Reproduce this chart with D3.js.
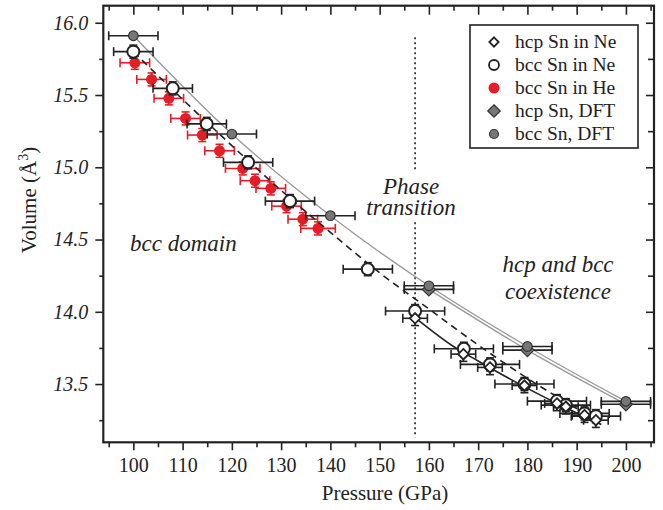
<!DOCTYPE html>
<html>
<head>
<meta charset="utf-8">
<script src="https://cdn.jsdelivr.net/npm/d3@7"></script>
<style>
  body { margin: 0; background: #fff; }
  svg text { font-family: "Liberation Serif", "Times New Roman", serif; }
</style>
</head>
<body>
<div id="graph"></div>
<script>
// values
var xTicks = [100, 110, 120, 130, 140, 150, 160, 170, 180, 190, 200]
var xMinor = [95, 105, 115, 125, 135, 145, 155, 165, 175, 185, 195, 205]
var yTicks = [13.5, 14.0, 14.5, 15.0, 15.5, 16.0]
var yMinor = [13.25, 13.75, 14.25, 14.75, 15.25, 15.75]

var hcpNeP = [157.2, 167.0, 172.4, 179.4, 186.0, 187.8, 191.6, 193.9]
var hcpNeV = [13.955, 13.707, 13.615, 13.49, 13.366, 13.343, 13.285, 13.25]
var hcpNeErrP = [2.5, 2.5, 2.5, 2.5, 2.5, 2.5, 2.5, 2.5]
var hcpNeErrV = [0.05, 0.05, 0.05, 0.05, 0.05, 0.05, 0.05, 0.05]

var bccNeP = [100.0, 108.0, 114.9, 123.3, 131.8, 147.6, 157.2, 167.1, 172.4, 179.4, 186.0, 187.8, 191.6, 193.9]
var bccNeV = [15.80, 15.546, 15.30, 15.034, 14.766, 14.295, 14.005, 13.744, 13.636, 13.50, 13.382, 13.354, 13.297, 13.278]
var bccNeErrP = [4, 4, 4, 5, 5, 5, 6, 6, 6, 6, 6, 5, 5, 5]
var bccNeErrV = [0.045, 0.045, 0.045, 0.045, 0.045, 0.045, 0.045, 0.045, 0.045, 0.045, 0.045, 0.045, 0.045, 0.045]

var bccHeP = [100.3, 103.7, 107.2, 110.6, 114.0, 117.5, 122.2, 124.7, 127.9, 131.1, 134.4, 137.5]
var bccHeV = [15.723, 15.608, 15.477, 15.338, 15.223, 15.114, 14.992, 14.907, 14.854, 14.731, 14.641, 14.577]
var bccHeErrP = [3, 3, 3, 3, 3, 3, 3.5, 3, 3, 3, 3, 3.5]
var bccHeErrV = [0.045, 0.045, 0.045, 0.045, 0.045, 0.045, 0.045, 0.045, 0.045, 0.045, 0.045, 0.045]

var hcpDftP = [160, 180, 200]
var hcpDftV = [14.155, 13.735, 13.36]
var bccDftP = [100, 120, 140, 160, 180, 200]
var bccDftV = [15.91, 15.23, 14.665, 14.18, 13.76, 13.38]
var dftErrP = 5

// fitted curves
var bccFitP = [100, 110, 120, 130, 140, 150, 160, 170, 180, 190, 194]
var bccFitV = [15.80, 15.47, 15.15, 14.84, 14.55, 14.27, 14.02, 13.77, 13.54, 13.33, 13.25]
var hcpFitP = [157.2, 165, 170, 180, 190, 195]
var hcpFitV = [13.96, 13.76, 13.66, 13.47, 13.30, 13.22]

var transitionP = 157.2
var legendLabels = ["hcp Sn in Ne", "bcc Sn in Ne", "bcc Sn in He", "hcp Sn, DFT", "bcc Sn, DFT"]

var red = "#e41e26", dftFill = "#777", dftStroke = "#333", dftLine = "#9a9a9a"

var width = 663, height = 510
var pLeft = 103.3, pRight = 654, pTop = 5.7, pBottom = 442.3

var svg = d3.select("#graph").append("svg")
  .attr("width", width)
  .attr("height", height)

var x = d3.scaleLinear().domain([93.9, 205.7]).range([pLeft, pRight])
var y = d3.scaleLinear().domain([13.097, 16.118]).range([pBottom, pTop])

function zip(ps, vs) {
  return ps.map(function(p, i) { return [p, vs[i]] })
}

// axes
var gx = svg.append("g").attr("transform", "translate(0," + pBottom + ")")
  .call(d3.axisBottom(x).tickValues(xTicks).tickSize(8).tickPadding(8).tickFormat(d3.format("d")))
gx.selectAll("text").style("font-size", "20px").attr("fill", "#222")
svg.append("g").attr("transform", "translate(0," + pBottom + ")")
  .call(d3.axisBottom(x).tickValues(xMinor).tickSize(5).tickFormat(""))
svg.append("g").attr("transform", "translate(0," + pTop + ")")
  .call(d3.axisBottom(x).tickValues(xTicks).tickSize(9).tickFormat(""))
svg.append("g").attr("transform", "translate(0," + pTop + ")")
  .call(d3.axisBottom(x).tickValues(xMinor).tickSize(5).tickFormat(""))

var gy = svg.append("g").attr("transform", "translate(" + pLeft + ",0)")
  .call(d3.axisLeft(y).tickValues(yTicks).tickSize(8).tickPadding(7).tickFormat(d3.format(".1f")))
gy.selectAll("text").style("font-size", "20px").style("font-style", "italic").attr("fill", "#222")
svg.append("g").attr("transform", "translate(" + pLeft + ",0)")
  .call(d3.axisLeft(y).tickValues(yMinor).tickSize(4).tickFormat(""))
svg.append("g").attr("transform", "translate(" + pRight + ",0)")
  .call(d3.axisLeft(y).tickValues(yTicks).tickSize(8).tickFormat(""))
svg.append("g").attr("transform", "translate(" + pRight + ",0)")
  .call(d3.axisLeft(y).tickValues(yMinor).tickSize(6).tickFormat(""))

svg.selectAll(".domain").remove()
svg.selectAll(".tick line").attr("stroke", "#222").attr("stroke-width", 1.6)

svg.append("rect")
  .attr("x", pLeft).attr("y", pTop)
  .attr("width", pRight - pLeft).attr("height", pBottom - pTop)
  .attr("fill", "none").attr("stroke", "#222").attr("stroke-width", 2.2)

// axis titles
svg.append("text")
  .attr("x", 385).attr("y", 500)
  .attr("text-anchor", "middle")
  .style("font-size", "21px").attr("fill", "#222")
  .text("Pressure (GPa)")

var yl = svg.append("text")
  .attr("transform", "translate(36,200) rotate(-90)")
  .attr("text-anchor", "middle")
  .style("font-size", "21px").attr("fill", "#222")
yl.append("tspan").text("Volume (Å")
yl.append("tspan").attr("dy", -8).style("font-size", "14px").text("3")
yl.append("tspan").attr("dy", 8).text(")")

// phase transition line
svg.append("line")
  .attr("x1", x(transitionP)).attr("x2", x(transitionP))
  .attr("y1", y(15.9)).attr("y2", y(13.13))
  .attr("stroke", "#222").attr("stroke-width", 1.6)
  .attr("stroke-dasharray", "2,3")
svg.append("rect")
  .attr("x", x(transitionP) - 45).attr("y", 172)
  .attr("width", 90).attr("height", 48)
  .attr("fill", "#fff")

// annotations
function label(t, xx, yy, anchor) {
  svg.append("text")
    .attr("x", xx).attr("y", yy)
    .attr("text-anchor", anchor)
    .style("font-size", "23px").style("font-style", "italic").attr("fill", "#222")
    .text(t)
}
label("Phase", 411, 194, "middle")
label("transition", 411, 215, "middle")
label("bcc domain", 130, 251, "start")
label("hcp and bcc", 558, 272, "middle")
label("coexistence", 558, 299, "middle")

// error bars
function errorBars(ps, vs, eps, evs, color) {
  var g = svg.append("g").attr("stroke", color).attr("stroke-width", 1.6)
  ps.forEach(function(p, i) {
    var cx = x(p), cy = y(vs[i])
    var x0 = x(p - eps[i]), x1 = x(p + eps[i])
    var y0 = y(vs[i] - evs[i]), y1 = y(vs[i] + evs[i])
    g.append("line").attr("x1", x0).attr("x2", x1).attr("y1", cy).attr("y2", cy)
    g.append("line").attr("x1", x0).attr("x2", x0).attr("y1", cy - 4.5).attr("y2", cy + 4.5)
    g.append("line").attr("x1", x1).attr("x2", x1).attr("y1", cy - 4.5).attr("y2", cy + 4.5)
    if (evs[i] > 0) {
      g.append("line").attr("x1", cx).attr("x2", cx).attr("y1", y0).attr("y2", y1)
      g.append("line").attr("x1", cx - 4).attr("x2", cx + 4).attr("y1", y0).attr("y2", y0)
      g.append("line").attr("x1", cx - 4).attr("x2", cx + 4).attr("y1", y1).attr("y2", y1)
    }
  })
}

var line = d3.line()
  .x(function(d) { return x(d[0]) })
  .y(function(d) { return y(d[1]) })
  .curve(d3.curveMonotoneX)

// He data first (lies underneath)
errorBars(bccHeP, bccHeV, bccHeErrP, bccHeErrV, red)
svg.append("g").selectAll("circle")
  .data(zip(bccHeP, bccHeV))
  .enter().append("circle")
  .attr("cx", function(d) { return x(d[0]) })
  .attr("cy", function(d) { return y(d[1]) })
  .attr("r", 5.5)
  .attr("fill", red)

// DFT lines
svg.append("path").datum(zip(bccDftP, bccDftV))
  .attr("d", line).attr("fill", "none")
  .attr("stroke", dftLine).attr("stroke-width", 1.4)
svg.append("path").datum(zip(hcpDftP, hcpDftV))
  .attr("d", line).attr("fill", "none")
  .attr("stroke", dftLine).attr("stroke-width", 1.4)

// fits
svg.append("path").datum(zip(bccFitP, bccFitV))
  .attr("d", line).attr("fill", "none")
  .attr("stroke", "#222").attr("stroke-width", 1.6)
  .attr("stroke-dasharray", "7,5")
svg.append("path").datum(zip(hcpFitP, hcpFitV))
  .attr("d", line).attr("fill", "none")
  .attr("stroke", "#222").attr("stroke-width", 1.6)

// Ne data
errorBars(bccNeP, bccNeV, bccNeErrP, bccNeErrV, "#222")
errorBars(hcpNeP, hcpNeV, hcpNeErrP, hcpNeErrV, "#222")
svg.append("g").selectAll("circle")
  .data(zip(bccNeP, bccNeV))
  .enter().append("circle")
  .attr("cx", function(d) { return x(d[0]) })
  .attr("cy", function(d) { return y(d[1]) })
  .attr("r", 6)
  .attr("fill", "#fff").attr("stroke", "#222").attr("stroke-width", 2)

svg.append("g").selectAll("path")
  .data(zip(hcpNeP, hcpNeV))
  .enter().append("path")
  .attr("transform", function(d) { return "translate(" + x(d[0]) + "," + y(d[1]) + ")" })
  .attr("d", d3.symbol().type(d3.symbolDiamond2).size(70))
  .attr("fill", "#fff").attr("stroke", "#222").attr("stroke-width", 1.8)

// DFT points
var noErrH = hcpDftP.map(function() { return 0 })
var noErrB = bccDftP.map(function() { return 0 })
errorBars(hcpDftP, hcpDftV, hcpDftP.map(function() { return dftErrP }), noErrH, "#222")
errorBars(bccDftP, bccDftV, bccDftP.map(function() { return dftErrP }), noErrB, "#222")
svg.append("g").selectAll("path")
  .data(zip(hcpDftP, hcpDftV))
  .enter().append("path")
  .attr("transform", function(d) { return "translate(" + x(d[0]) + "," + y(d[1]) + ")" })
  .attr("d", d3.symbol().type(d3.symbolDiamond2).size(110))
  .attr("fill", dftFill).attr("stroke", dftStroke).attr("stroke-width", 1.2)
svg.append("g").selectAll("circle")
  .data(zip(bccDftP, bccDftV))
  .enter().append("circle")
  .attr("cx", function(d) { return x(d[0]) })
  .attr("cy", function(d) { return y(d[1]) })
  .attr("r", 4.8)
  .attr("fill", dftFill).attr("stroke", dftStroke).attr("stroke-width", 1.2)

// legend
var lg = svg.append("g")
lg.append("rect")
  .attr("x", 470).attr("y", 25).attr("width", 168).attr("height", 123)
  .attr("fill", "#fff").attr("stroke", "#222").attr("stroke-width", 1.6)
var rows = lg.selectAll(".row").data(legendLabels).enter().append("g")
  .attr("class", "row")
  .attr("transform", function(d, i) { return "translate(494," + (42 + i * 23) + ")" })
rows.append("text")
  .attr("x", 21).attr("dy", "0.33em")
  .style("font-size", "19.5px").attr("fill", "#222")
  .text(function(d) { return d })
rows.each(function(d, i) {
  var g = d3.select(this)
  if (i == 0) {
    g.append("path").attr("d", d3.symbol().type(d3.symbolDiamond2).size(55))
      .attr("fill", "#fff").attr("stroke", "#222").attr("stroke-width", 1.8)
  } else if (i == 1) {
    g.append("circle").attr("r", 5).attr("fill", "#fff").attr("stroke", "#222").attr("stroke-width", 1.8)
  } else if (i == 2) {
    g.append("circle").attr("r", 5.5).attr("fill", red)
  } else if (i == 3) {
    g.append("path").attr("d", d3.symbol().type(d3.symbolDiamond2).size(100))
      .attr("fill", dftFill).attr("stroke", dftStroke).attr("stroke-width", 1.2)
  } else {
    g.append("circle").attr("r", 4.5).attr("fill", dftFill).attr("stroke", dftStroke).attr("stroke-width", 1.2)
  }
})
</script>
</body>
</html>
